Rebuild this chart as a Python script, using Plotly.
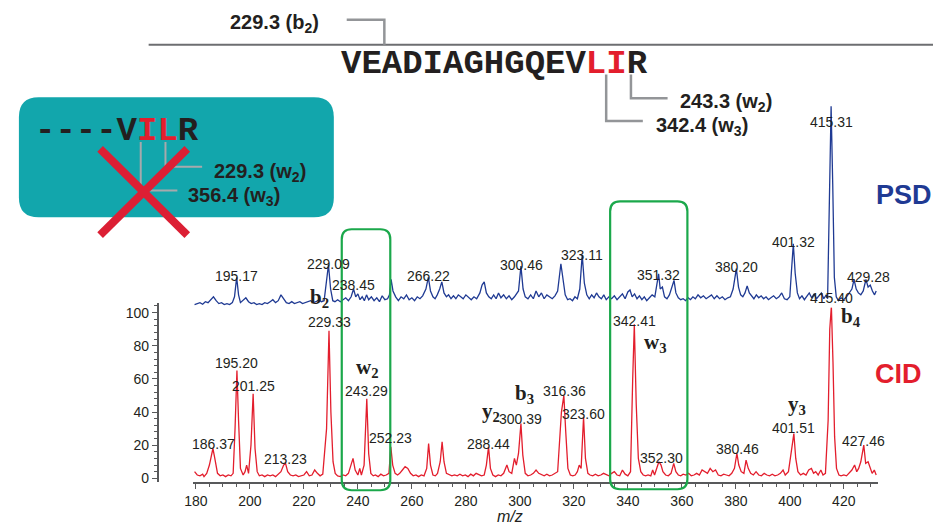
import plotly.graph_objects as go

W, H = 933, 524
def px(x): return x / W
def py(y): return 1 - y / H

PSD_BLUE = "#1f3a93"
CID_RED = "#e31e2d"
TEXT = "#231f20"
GRAY = "#939598"
TEAL = "#12a6ac"
GREEN = "#1ba84b"
XRED = "#dc1f34"

# ---- data (m/z, relative intensity) ----
cid_points = [
    (179.5, 4), (180.5, 2), (181.5, 1.5), (182.5, 2.5), (183, 1), (184, 3), (185, 8), (186.3, 18), (187, 12), (188, 3),
    (189, 1.5), (190, 2), (191, 1), (192, 2), (193, 1.5), (193.8, 3), (194.5, 30), (195.2, 65), (195.8, 35), (196.5, 6),
    (197.5, 2), (198.2, 4), (198.8, 8), (199.5, 3), (200.4, 20), (201.2, 51), (201.9, 18), (202.7, 4), (203.5, 1.5),
    (204.5, 2), (205.5, 1), (206.5, 2), (207.5, 1.5), (208.5, 2), (209.5, 1), (210.5, 2.5), (211.5, 4), (212.5, 8),
    (213.2, 9), (214, 4), (215, 2), (216, 1.5), (217, 2), (218, 1), (219, 1.5), (220, 2), (221, 4), (222, 1.5), (223, 2),
    (224, 5), (225, 3), (226, 1.5), (227, 2.5), (228.4, 30), (229.3, 89), (230, 40), (230.8, 10), (231.6, 3), (232.5, 1.5),
    (233.5, 1), (234.5, 2), (235.5, 1.5), (236.5, 3), (237.5, 9), (238.2, 12), (239, 5), (240, 2), (240.7, 6), (241.3, 2),
    (242.3, 8), (243.3, 48), (244, 15), (244.8, 3), (245.7, 1.5), (246.5, 2), (247.5, 1), (248.5, 2.5), (249.5, 1.5),
    (250.5, 2), (251.5, 3), (252.2, 19), (252.9, 8), (253.8, 3), (254.7, 2), (255.5, 3), (256.5, 5), (257.5, 7), (258.5, 6),
    (259.5, 3), (260.5, 1.5), (261.5, 2), (262.5, 1), (263.5, 2), (264.5, 1.5), (265.5, 6), (266.2, 21), (266.9, 8),
    (267.8, 2), (268.7, 1.5), (269.5, 3), (270.5, 10), (271.2, 22), (271.9, 10), (272.8, 3), (273.8, 2), (274.8, 1.5),
    (275.8, 2), (276.8, 1.5), (277.8, 2.5), (278.8, 1.5), (279.8, 2), (280.8, 1), (281.8, 2.5), (282.8, 1.5), (283.8, 3),
    (284.8, 2), (285.8, 1.5), (286.8, 2), (287.6, 8), (288.4, 19), (289.1, 6), (290, 2), (291, 1), (292, 2), (293, 1.5),
    (294, 3), (295.2, 8), (296, 4), (297, 3), (298, 12), (298.7, 8), (299.5, 15), (300.4, 33), (301.1, 14), (302, 3),
    (303, 1.5), (304, 2), (305, 3), (306, 5), (307, 3), (308, 2), (309, 1.5), (310, 2.5), (311, 1.5), (312, 2), (313, 3),
    (314, 4), (315.4, 40), (316.3, 50), (317, 28), (317.8, 6), (318.7, 2), (319.6, 1.5), (320.5, 2), (321.3, 4), (322, 8),
    (322.7, 6), (323.6, 37), (324.3, 12), (325.2, 3), (326, 2), (327, 1.5), (328, 2.5), (329, 1.5), (330, 2), (331, 3),
    (332, 2), (333, 1.5), (334, 3), (335, 4), (336, 2), (337, 1.5), (338, 5), (339, 2.5), (340, 1.5), (341, 4), (341.8, 60),
    (342.4, 93), (343.1, 45), (343.9, 12), (344.8, 4), (345.7, 2), (346.6, 1.5), (347.5, 2), (348.5, 1.5), (349.2, 5),
    (349.9, 2), (350.8, 7), (351.5, 10), (352.3, 8), (353, 4), (354, 2), (355, 1.5), (356, 3), (357, 9), (357.8, 4),
    (358.7, 2), (359.6, 1.5), (360.5, 2.5), (361.5, 2), (362.5, 3), (363.5, 1.5), (364.5, 2), (365.5, 3), (366.5, 2),
    (367.5, 5), (368.5, 4), (369.5, 3), (370.5, 6), (371.5, 4), (372.5, 5), (373.5, 2), (374.5, 1.5), (375.5, 2.5),
    (376.5, 2), (377.5, 1.5), (378.5, 3), (379.5, 6), (380.4, 15), (381.1, 8), (382, 4), (383, 3), (383.8, 11), (384.6, 6),
    (385.5, 3), (386.5, 2), (387.5, 4), (388.5, 2), (389.5, 1.5), (390.5, 3), (391.5, 2), (392.5, 1.5), (393.5, 2.5),
    (394.5, 1.5), (395.5, 2), (396.5, 3), (397.5, 5), (398.3, 2), (399.5, 4), (400.6, 18), (401.5, 27), (402.2, 12),
    (403, 4), (404, 2), (405, 3), (406, 2), (407, 5), (408, 6), (408.8, 3), (409.6, 4), (410.5, 2), (411.5, 5), (412.3, 2),
    (413.2, 3), (414.2, 35), (414.8, 90), (415.4, 104), (416, 70), (416.6, 25), (417.3, 6), (418.2, 2), (419, 1.5),
    (420, 2), (421, 1.5), (422, 3), (423, 5), (424, 8), (424.8, 4), (425.5, 6), (426.3, 10), (427.4, 20), (428.1, 9),
    (429, 10), (429.8, 6), (430.5, 3), (431.3, 5), (432, 2),
]

psd_points = [
    (179.5, -2), (180.5, -1.5), (181.5, -1), (182.5, -1.8), (183.5, -0.5), (184.5, -1), (185.5, 0.5), (186.5, 2),
    (187.5, 0), (188.5, -1.5), (189.5, -1), (190.5, -2), (191.5, -1.5), (192.5, -2), (193.5, -1), (194.3, 2),
    (195.1, 12), (195.8, 3), (196.5, -1), (197.5, 0.5), (198.5, 1.5), (199.5, -0.5), (200.5, -1.5), (201.5, -1),
    (202.5, -2), (203.5, -1.5), (204.5, -2), (205.5, -1), (206.5, -1.5), (207.5, -0.5), (208.5, 0.5), (209.5, -1),
    (210.5, 0), (211.5, 3), (212.5, 1), (213.5, -1), (214.5, -1.5), (215.5, -0.5), (216.5, -1.5), (217.5, -1),
    (218.5, -0.5), (219.5, -1.5), (220.5, -1), (221.5, -0.5), (222.5, 0), (223.5, -1), (224.5, -0.5), (225.5, 0.5),
    (226.5, -0.5), (227.5, 0), (228.3, 8), (229.1, 18.5), (229.9, 6), (230.7, 0), (231.5, -0.5), (232.5, 0.5),
    (233.5, -0.5), (234.5, 0.5), (235.5, 1.5), (236.5, 0), (237.5, 2), (238.4, 6), (239.2, 2), (240, 3.5), (240.8, 0.5),
    (241.6, 2), (242.4, 0), (243.2, 3), (244, 0.5), (245, 2), (246, 0), (247, 1.5), (248, -0.5), (249, 2.5), (250, 0.5),
    (251, 1), (251.7, 3), (252.3, 11), (253, 5), (254, 2), (255, 0), (256, 2), (257, 1), (258, 3), (259, 0.5), (260, 1.5),
    (261, 0), (262, 2), (263, 1), (264, 2.5), (265.2, 6), (266.1, 12), (266.9, 5), (267.8, 2), (268.6, 1), (269.4, 3),
    (270.3, 6), (271.1, 9.7), (271.9, 4), (272.8, 2), (273.6, 3), (274.5, 1), (275.4, 2.5), (276.3, 1), (277.2, 3),
    (278.1, 2), (279, 1), (280, 3), (281, 1.5), (282, 0.5), (283, 2), (284, 1), (285.2, 4), (286, 8), (286.8, 9.7),
    (287.6, 4), (288.5, 2), (289.4, 1), (290.3, 3), (291.2, 1), (292.1, 4), (293, 1.5), (294, 3), (295, 1), (296, 2.5),
    (297, 0.5), (298, 2), (299.5, 5), (300.4, 17.8), (301.2, 6), (302, 2), (303, 1), (304, 3), (305, 1), (306, 5),
    (307, 2), (308, 4), (309, 1), (310, 3), (311, 2), (312, 1), (313, 2.5), (314, 5), (315.2, 19), (316, 10), (316.8, 3),
    (317.7, 0.5), (318.6, 1), (319.5, 0), (320.4, 2), (321.3, 1), (322.2, 6), (323.1, 23.6), (323.9, 9), (324.8, 3),
    (325.7, 1), (326.6, 3), (327.5, 1.5), (328.4, 4), (329.3, 2), (330.2, 1), (331.1, 3), (332, 0.5), (333, 2), (334, 1),
    (335, 2.5), (336, 0.5), (337, 2), (338, 3.5), (339, 1), (340, 4.5), (340.8, 5.5), (341.6, 2), (342.5, 3.5),
    (343.4, 1), (344.3, 2.5), (345.2, 0.5), (346.1, 2), (347, 0), (348, 1.5), (349, 3), (350, 2), (350.8, 8),
    (351.4, 13.8), (352, 6), (352.8, 7), (353.6, 2), (354.5, 1), (355.4, 3), (356.4, 7), (357.1, 10.4), (357.8, 4),
    (358.7, 1.5), (359.6, 0.5), (360.5, 1), (361.4, 0), (362.3, 1.5), (363.2, 0.5), (364.1, 2), (365, 1), (366, 3),
    (367, 1.5), (368, 2.5), (369, 1), (370, 2), (371, 3), (372, 1), (373, 2.5), (374, 1), (375, 2), (376, 0.5),
    (377, 1.5), (378, 2), (379, 6), (380.2, 16.5), (381, 7), (381.8, 3), (382.6, 2), (383.4, 4), (384.2, 7.6), (385, 4),
    (385.8, 2.5), (386.7, 1), (387.6, 3), (388.5, 1.5), (389.4, 2.5), (390.3, 1), (391.2, 2), (392.1, 0.5), (393, 1.5),
    (394, 2.5), (395, 1), (396, 2), (397, 4), (398, 1), (399, 0.5), (400, 2), (400.6, 15), (401.3, 29.2), (402, 14),
    (402.8, 4), (403.6, 1), (404.5, 2.5), (405.4, 0.5), (406.3, 2), (407.2, 4), (408.1, 1.5), (409, 3.5), (409.9, 1),
    (410.8, 2.5), (411.7, 4), (412.6, 1), (413.5, 3), (414, 1), (414.7, 55), (415.3, 100), (415.9, 60), (416.5, 12),
    (417.2, 2), (418, 0), (419, 1.5), (420, 0.5), (421, 2), (422, 4), (423, 6), (423.8, 10.9), (424.6, 6), (425.4, 4),
    (426.3, 3), (427.2, 5), (428.2, 10.9), (429, 7), (429.8, 8), (430.6, 5), (431.4, 3), (432, 5),
]

cid_labels = ["186.37", "195.20", "201.25", "213.23", "229.33", "243.29", "252.23", "288.44", "300.39",
              "316.36", "323.60", "342.41", "352.30", "380.46", "401.51", "427.46", "415.40"]
cid_label_y = [21, 69.5, 55.7, 11.4, 94.6, 52.7, 24.6, 21, 36, 52.7, 39, 95, 12, 17.4, 30.5, 22.8, 104]

psd_labels = ["195.17", "229.09", "238.45", "266.22", "300.46", "323.11", "351.32", "380.20", "401.32",
              "415.31", "429.28"]
psd_label_y = [12.8, 18.9, 8.2, 12.8, 18.4, 23.5, 13.3, 17.3, 30.1, 91.8, 12.2]

sequence = "VEADIAGHGQEV"
sequence_red = "LI"
sequence_end = "R"

fig = go.Figure()
fig.add_trace(go.Scatter(x=[p[0] for p in psd_points], y=[p[1] for p in psd_points],
                         xaxis="x", yaxis="y2", mode="lines", line=dict(color=PSD_BLUE, width=1.3),
                         hoverinfo="skip"))
fig.add_trace(go.Scatter(x=[p[0] for p in cid_points], y=[p[1] for p in cid_points],
                         xaxis="x", yaxis="y", mode="lines", line=dict(color=CID_RED, width=1.3),
                         hoverinfo="skip"))

ann = []
lab_font = dict(family="Liberation Sans, Arial", size=14, color=TEXT)
for t, yv in zip(cid_labels, cid_label_y):
    ys = 0
    if yv > 100:
        ys = 8
    ann.append(dict(x=float(t), y=min(yv, 104), xref="x", yref="y", text=t, showarrow=False,
                    font=lab_font, xanchor="center", yanchor="middle", yshift=ys))
for t, yv in zip(psd_labels, psd_label_y):
    ann.append(dict(x=float(t), y=yv, xref="x", yref="y2", text=t, showarrow=False,
                    font=lab_font, xanchor="center", yanchor="middle"))

def ptext(text, x, y, size, color=TEXT, family="Liberation Sans, Arial", xanchor="left", bold=True):
    if bold:
        text = "<b>" + text + "</b>"
    ann.append(dict(x=px(x), y=py(y), xref="paper", yref="paper", text=text, showarrow=False,
                    font=dict(family=family, size=size, color=color), xanchor=xanchor, yanchor="middle"))

# peptide sequence
ptext(sequence + "<span style='color:%s'>%s</span>" % (CID_RED, sequence_red) + sequence_end,
      333, 64, 34, family="Liberation Mono, Courier New, monospace")
ptext("229.3 (b<sub>2</sub>)", 268, 24, 20, xanchor="center")
ptext("243.3 (w<sub>2</sub>)", 676, 103, 20)
ptext("342.4 (w<sub>3</sub>)", 651, 127, 20)

# teal box content
ptext("----V<span style='color:%s'>IL</span>R" % CID_RED, 24, 132, 34,
      family="Liberation Mono, Courier New, monospace")
ptext("229.3 (w<sub>2</sub>)", 205, 174, 20)
ptext("356.4 (w<sub>3</sub>)", 179, 198, 20)

# PSD / CID tags
ptext("PSD", 904, 197, 27, color=PSD_BLUE, xanchor="center")
ptext("CID", 898, 377, 27, color=CID_RED, xanchor="center")

# fragment labels
frag = [("b<sub>2</sub>", 314, 300), ("w<sub>2</sub>", 362, 371), ("y<sub>2</sub>", 487, 415),
        ("b<sub>3</sub>", 521, 397), ("w<sub>3</sub>", 653, 346), ("y<sub>3</sub>", 796, 408),
        ("b<sub>4</sub>", 850, 319)]
for t, x, y in frag:
    ptext(t, x, y, 21, family="Liberation Serif, Times New Roman, serif", xanchor="center")

ann.append(dict(x=px(506), y=py(520), xref="paper", yref="paper", text="<i>m/z</i>", showarrow=False,
                font=dict(family="Liberation Sans, Arial", size=16, color=TEXT), xanchor="center",
                yanchor="middle"))

shapes = []
def pline(pts, color, width):
    path = "M " + " L ".join("%f,%f" % (px(a), py(b)) for a, b in pts)
    shapes.append(dict(type="path", path=path, xref="paper", yref="paper",
                       line=dict(color=color, width=width), fillcolor="rgba(0,0,0,0)"))

def rrect(x0, y0, x1, y1, r, line=None, fill=None):
    P = lambda a, b: "%f,%f" % (px(a), py(b))
    path = ("M " + P(x0 + r, y0) + " L " + P(x1 - r, y0) + " Q " + P(x1, y0) + " " + P(x1, y0 + r) +
            " L " + P(x1, y1 - r) + " Q " + P(x1, y1) + " " + P(x1 - r, y1) +
            " L " + P(x0 + r, y1) + " Q " + P(x0, y1) + " " + P(x0, y1 - r) +
            " L " + P(x0, y0 + r) + " Q " + P(x0, y0) + " " + P(x0 + r, y0) + " Z")
    d = dict(type="path", path=path, xref="paper", yref="paper")
    if line:
        d["line"] = dict(color=line, width=2.2)
        d["fillcolor"] = "rgba(0,0,0,0)"
    else:
        d["line"] = dict(width=0)
        d["fillcolor"] = fill
    shapes.append(d)

pline([(141, 45), (933, 45)], "#6d6e71", 2)
pline([(341, 20), (379, 20), (379, 45)], GRAY, 2.5)
pline([(628, 75), (628, 99), (665, 99)], GRAY, 2.5)
pline([(603, 75), (603, 122), (640, 122)], GRAY, 2.5)

rrect(10, 98, 328, 219, 20, fill=TEAL)
pline([(133, 143), (133, 192), (170, 192)], "#a7a9ac", 2)
pline([(158, 143), (158, 168), (195, 168)], "#a7a9ac", 2)
pline([(92, 150), (180, 237)], XRED, 8)
pline([(180, 150), (92, 237)], XRED, 8)

rrect(336, 231, 385, 494, 10, line=GREEN)
rrect(607, 203, 685, 493, 10, line=GREEN)

axis_color = "#58595b"
fig.update_layout(
    width=W, height=H, margin=dict(l=0, r=0, t=0, b=0),
    paper_bgcolor="white", plot_bgcolor="white", showlegend=False,
    xaxis=dict(domain=[px(186), px(877)], range=[179, 432.5], anchor="y", showline=True,
               linecolor=axis_color, linewidth=1.5, ticks="outside", ticklen=5, tickcolor=axis_color,
               tickmode="linear", tick0=180, dtick=20, showgrid=False, zeroline=False,
               tickfont=dict(family="Liberation Sans, Arial", size=14, color=TEXT),
               minor=dict(dtick=5, ticklen=3, ticks="outside", tickcolor=axis_color, showgrid=False)),
    yaxis=dict(domain=[py(486), py(305)], range=[-2.4, 106], anchor="free", position=px(150),
               showline=True, linecolor=axis_color, linewidth=1.5, ticks="outside", ticklen=5,
               tickcolor=axis_color, tickmode="linear", tick0=0, dtick=20, showgrid=False,
               zeroline=False, tickfont=dict(family="Liberation Sans, Arial", size=14, color=TEXT),
               minor=dict(dtick=4, ticklen=3, ticks="outside", tickcolor=axis_color, showgrid=False)),
    yaxis2=dict(domain=[py(310), py(100)], range=[-3.57, 103.6], anchor="x", visible=False),
    annotations=ann, shapes=shapes,
)

fig.write_html("out.html", config={"displayModeBar": False},
               post_script="document.body.style.margin='0';document.body.style.overflow='hidden';")
